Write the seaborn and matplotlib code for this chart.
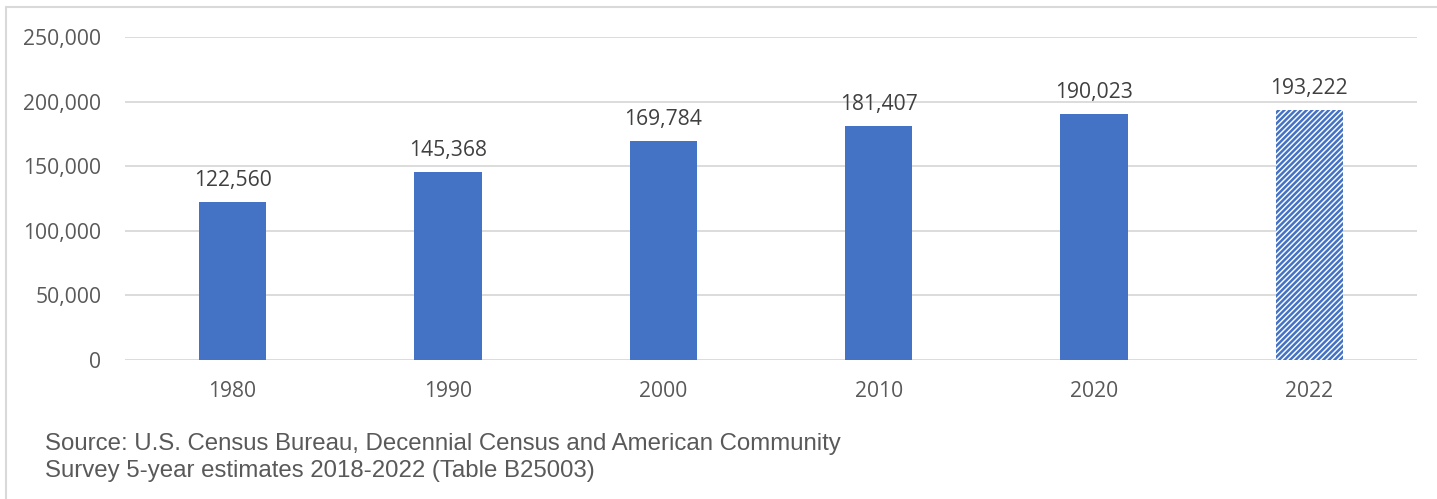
import matplotlib
matplotlib.use("Agg")
import matplotlib.pyplot as plt
from matplotlib.lines import Line2D
from matplotlib.ticker import FuncFormatter
import seaborn as sns
import pandas as pd

# Housing units by census year (2022 from ACS 5-year estimates)
years = ["1980", "1990", "2000", "2010", "2020", "2022"]
units = [122560, 145368, 169784, 181407, 190023, 193222]
y_ticks = [0, 50000, 100000, 150000, 200000, 250000]
source_lines = [
    "Source: U.S. Census Bureau, Decennial Census and American Community",
    "Survey 5-year estimates 2018-2022 (Table B25003)",
]

BLUE = "#4472C4"
GRID = "#D9D9D9"
TEXT = "#595959"

sns.set_theme(style="white")
plt.rcParams["font.family"] = ["Open Sans", "DejaVu Sans"]
plt.rcParams["hatch.linewidth"] = 1.8

df = pd.DataFrame({"year": years, "units": units})

fig = plt.figure(figsize=(14.37, 4.99), dpi=100)
ax = fig.add_axes([125 / 1437, 139 / 499, 1292 / 1437, 323 / 499])

sns.barplot(data=df, x="year", y="units", color=BLUE, saturation=1,
            width=0.312, ax=ax, linewidth=0)

# The latest year is an estimate: draw it hatched
last = ax.patches[len(years) - 1]
last.set_facecolor("white")
last.set_edgecolor(BLUE)
last.set_hatch("//////")
last.set_linewidth(0)

ax.set_xlim(-0.5, len(years) - 0.5)
ax.set_ylim(0, 250000)
ax.set_yticks(y_ticks)
ax.yaxis.set_major_formatter(FuncFormatter(lambda v, p: f"{int(v):,}"))
ax.grid(axis="y", color=GRID, linewidth=1.3)
ax.set_axisbelow(True)
for s in ax.spines.values():
    s.set_visible(False)
ax.set_xlabel("")
ax.set_ylabel("")
ax.tick_params(axis="both", length=0, labelsize=15.2, colors=TEXT)
ax.tick_params(axis="y", pad=17)
ax.tick_params(axis="x", pad=15)

for patch, val in zip(ax.patches, units):
    ax.annotate(f"{val:,}", (patch.get_x() + patch.get_width() / 2, val),
                xytext=(0, 8), textcoords="offset points",
                ha="center", va="bottom", fontsize=15.2, color="#404040")

for i, line in enumerate(source_lines):
    fig.text(45 / 1437, 1 - (444 + i * 27) / 499, line,
             fontsize=17.3, color=TEXT, family=["Liberation Sans", "DejaVu Sans"],
             va="center", ha="left")

# Chart frame along the top and left edges
fig.add_artist(Line2D([6 / 1437, 1.0], [1 - 7 / 499, 1 - 7 / 499],
                      transform=fig.transFigure, color=GRID, linewidth=1.5))
fig.add_artist(Line2D([6 / 1437, 6 / 1437], [0, 1 - 7 / 499],
                      transform=fig.transFigure, color=GRID, linewidth=1.5))

fig.savefig("out.png", dpi=100, facecolor="white")
